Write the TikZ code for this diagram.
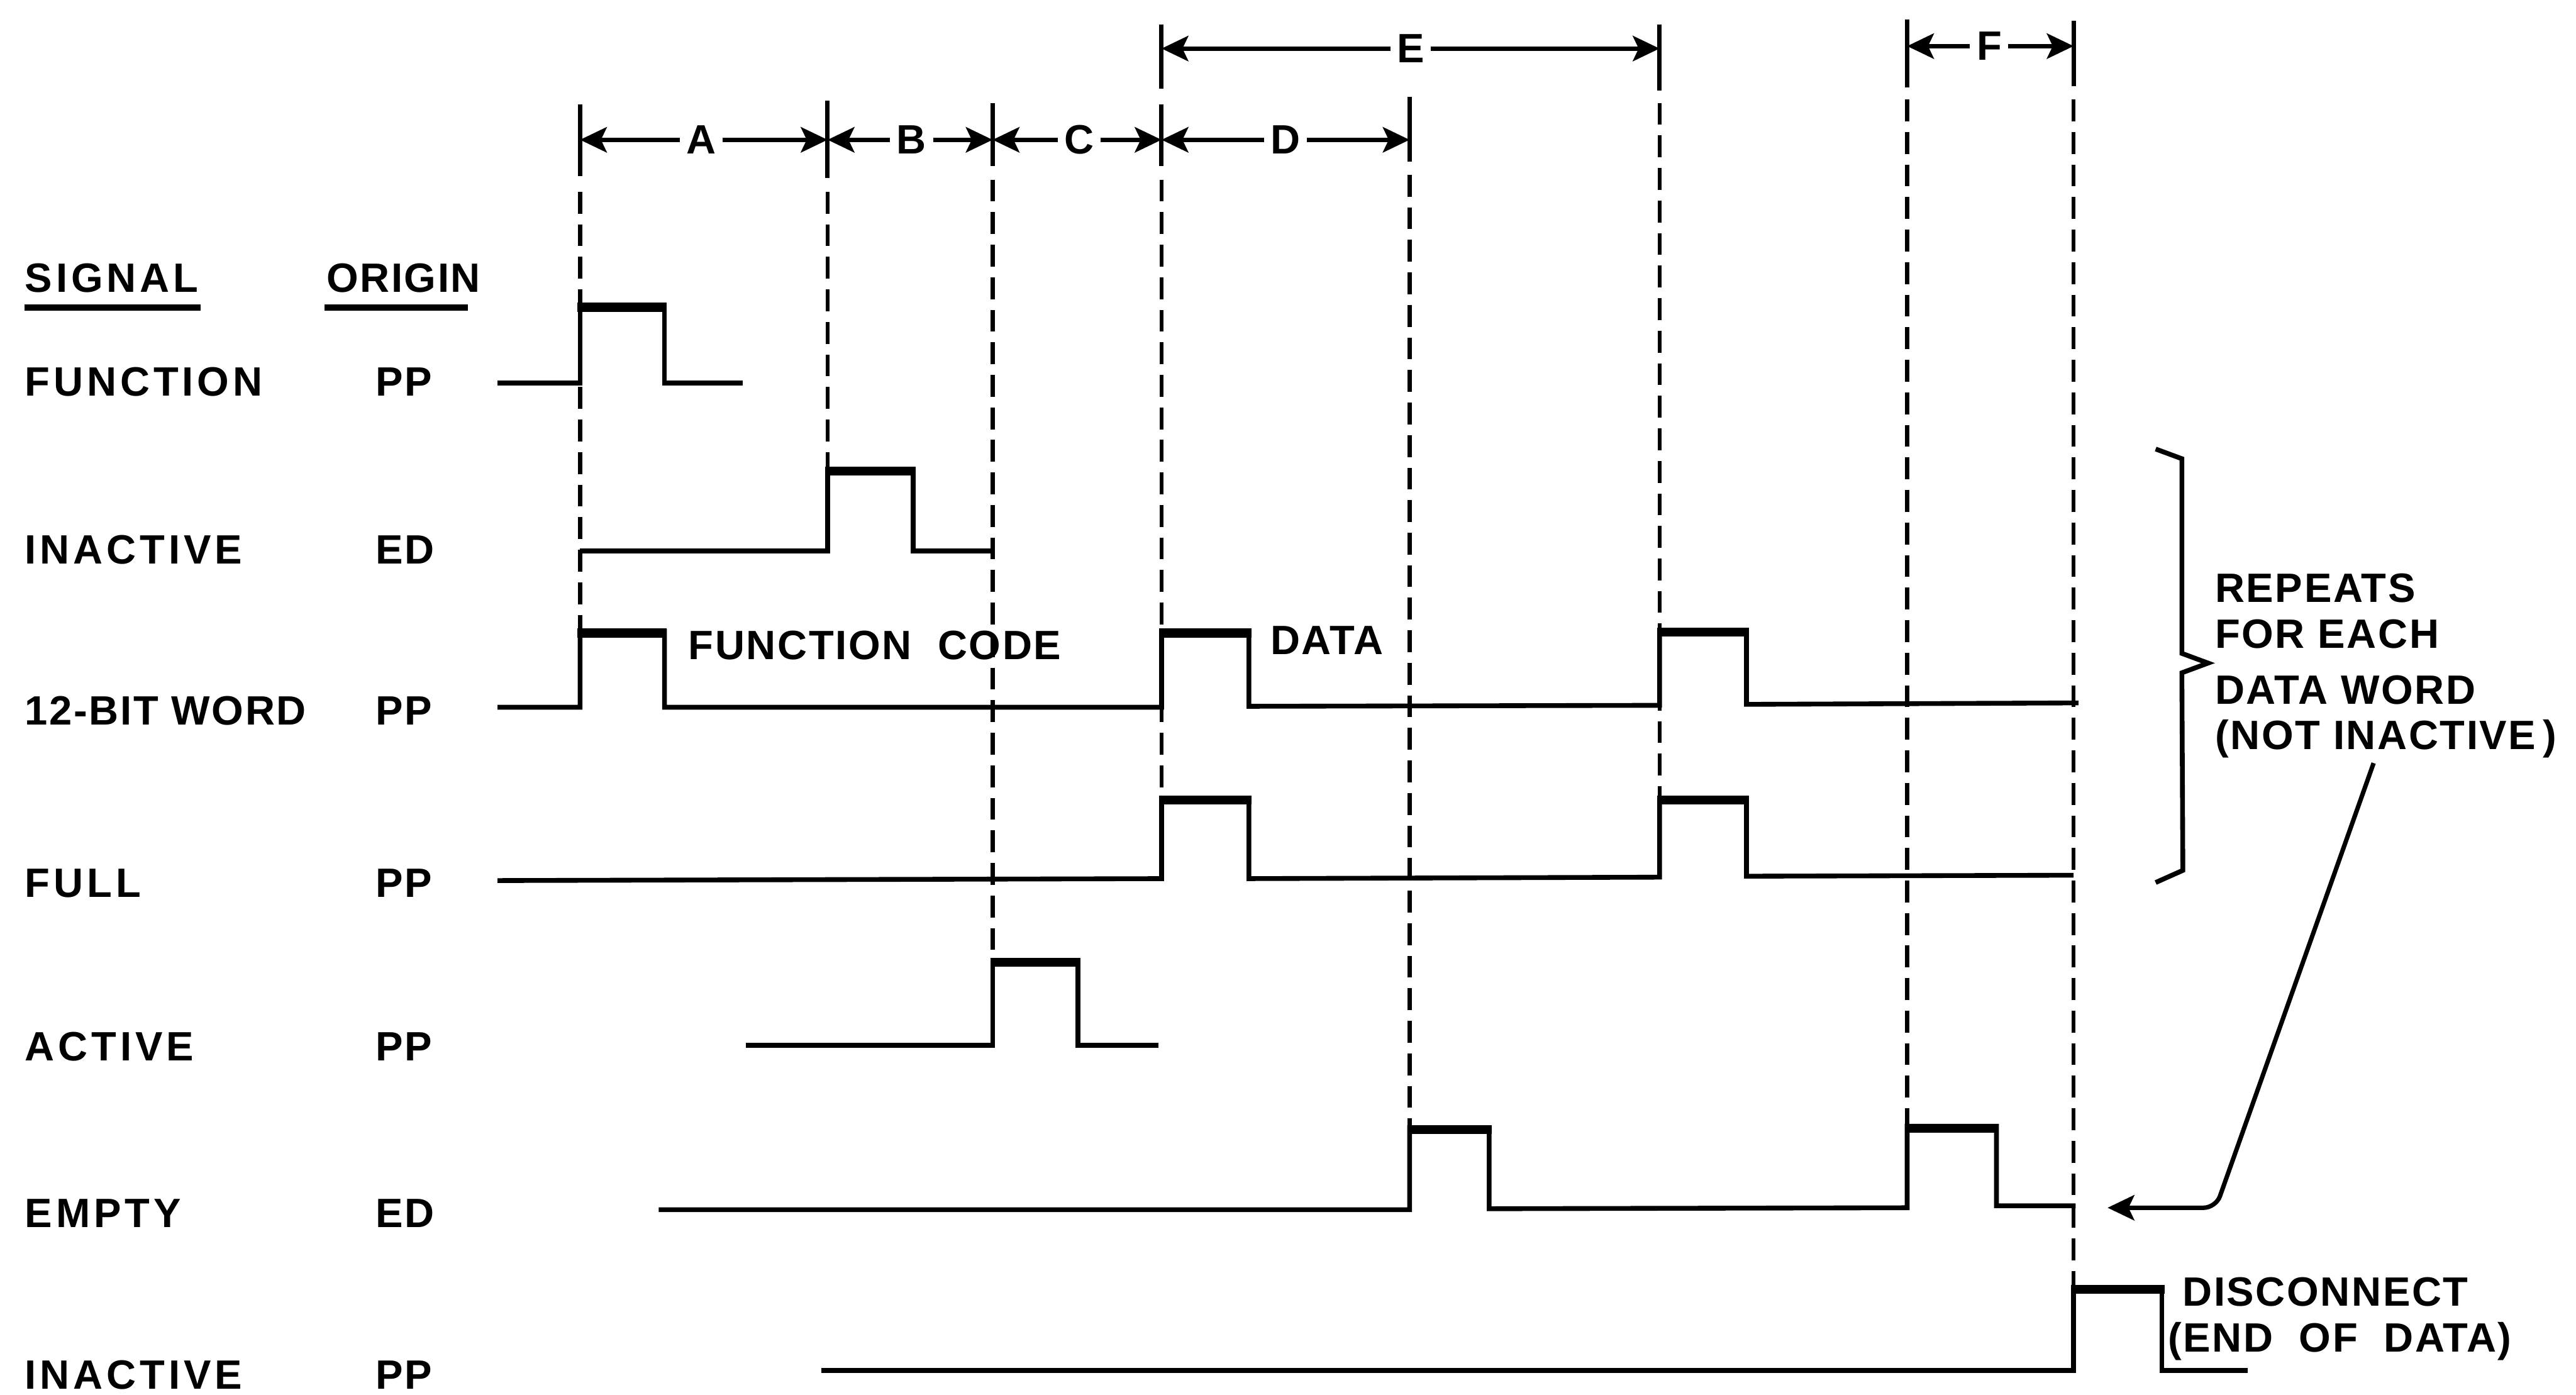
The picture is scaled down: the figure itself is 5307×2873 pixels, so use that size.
\documentclass[tikz,border=0pt]{standalone}
\usepackage{fontspec}
\newfontfamily\lblfam{Liberation Sans}[LetterSpace=4]
\newfontfamily\lblwidefam{Liberation Sans}[LetterSpace=9]
\newcommand\lblfont{\lblfam\bfseries\fontsize{24}{28}\selectfont}
\newcommand\lblwidefont{\lblwidefam\bfseries\fontsize{24}{28}\selectfont}
\usetikzlibrary{arrows.meta}
\begin{document}
\begin{tikzpicture}[x=0.01cm,y=-0.01cm,
  sig/.style={line width=2.8pt,line join=miter},
  topbar/.style={line width=5.2pt},
  guide/.style={line width=2.4pt,dash pattern=on 0.45cm off 0.22cm},
  tickline/.style={line width=2.6pt},
  uline/.style={line width=3.6pt},
  dimarrow/.style={line width=2.6pt,-{Stealth[length=0.55cm,width=0.52cm,inset=0.12cm]}},
  lbl/.style={font=\lblfont,inner sep=0pt,anchor=base west},
  rowlbl/.style={font=\lblwidefont,inner sep=0pt,anchor=base west},
  dimlbl/.style={font=\lblfont,inner sep=0.13cm}]
\useasboundingbox (0,0) rectangle (5307,2873);

% ---------- header ----------
\node[rowlbl] (hsig) at (51,602) {SIGNAL};
\node[lbl] (horg) at (672,602) {ORIGIN};
\draw[uline] (51,634) -- (413,634);
\draw[uline] (668,634) -- (964,634);

% ---------- row labels ----------
\node[rowlbl] (n1) at (51,816) {FUNCTION};
\node[rowlbl] (n2) at (51,1161) {INACTIVE};
\node[lbl] (n3) at (51,1493) {12-BIT WORD};
\node[rowlbl] (n4) at (51,1848) {FULL};
\node[rowlbl] (n5) at (51,2185) {ACTIVE};
\node[rowlbl] (n6) at (51,2528) {EMPTY};
\node[rowlbl] (n7) at (51,2861) {INACTIVE};
\node[lbl] (o1) at (774,816) {PP};
\node[lbl] (o2) at (774,1161) {ED};
\node[lbl] (o3) at (774,1493) {PP};
\node[lbl] (o4) at (774,1848) {PP};
\node[lbl] (o5) at (774,2185) {PP};
\node[lbl] (o6) at (774,2528) {ED};
\node[lbl] (o7) at (774,2861) {PP};

% ---------- timing boundaries: solid ticks ----------
\draw[tickline] (1195,215) -- (1195,363);
\draw[tickline] (1705,207) -- (1705,367);
\draw[tickline] (2045,212) -- (2045,342);
\draw[tickline] (2393,50) -- (2393,183);
\draw[tickline] (2393,215) -- (2393,342);
\draw[tickline] (2904,200) -- (2904,333);
\draw[tickline] (3419,50) -- (3419,186);
\draw[tickline] (3929,40) -- (3929,180);
\draw[tickline] (4272,43) -- (4272,178);

% ---------- dashed guides ----------
\draw[guide] (1195,395) -- (1195,1300);
\draw[guide] (1705,395) -- (1705,967);
\draw[guide] (2045,370) -- (2045,1978);
\draw[guide] (2393,370) -- (2393,1644);
\draw[guide] (2904,360) -- (2904,2323);
\draw[guide] (3419,212) -- (3419,1644);
\draw[guide] (3929,205) -- (3929,2323);
\draw[guide] (4272,205) -- (4272,2652);

% ---------- interval labels and arrows ----------
\coordinate (a1) at (1195,288);
\coordinate (a2) at (1705,288);
\coordinate (a3) at (2045,288);
\coordinate (a4) at (2393,288);
\coordinate (a5) at (2904,288);
\coordinate (e1) at (2393,100);
\coordinate (e2) at (3419,100);
\coordinate (f1) at (3929,95);
\coordinate (f2) at (4272,95);
\node[dimlbl] (lA) at (1445,288) {A};
\node[dimlbl] (lB) at (1878,288) {B};
\node[dimlbl] (lC) at (2223,288) {C};
\node[dimlbl] (lD) at (2648,288) {D};
\node[dimlbl] (lE) at (2906,100) {E};
\node[dimlbl] (lF) at (4098,95) {F};
\draw[dimarrow] (lA.west) -- (a1);
\draw[dimarrow] (lA.east) -- (a2);
\draw[dimarrow] (lB.west) -- (a2);
\draw[dimarrow] (lB.east) -- (a3);
\draw[dimarrow] (lC.west) -- (a3);
\draw[dimarrow] (lC.east) -- (a4);
\draw[dimarrow] (lD.west) -- (a4);
\draw[dimarrow] (lD.east) -- (a5);
\draw[dimarrow] (lE.west) -- (e1);
\draw[dimarrow] (lE.east) -- (e2);
\draw[dimarrow] (lF.west) -- (f1);
\draw[dimarrow] (lF.east) -- (f2);

% ---------- waveforms ----------
% FUNCTION
\draw[sig] (1025,789) -- (1195,789) -- (1195,629) -- (1369,629) -- (1369,789) -- (1530,789);
\draw[topbar] (1190,633) -- (1374,633);
% INACTIVE (ED)
\draw[sig] (1195,1135) -- (1705,1135) -- (1705,967) -- (1881,967) -- (1881,1135) -- (2045,1135);
\draw[topbar] (1700,971) -- (1886,971);
% 12-BIT WORD
\draw[sig] (1025,1457) -- (1195,1457) -- (1195,1300) -- (1369,1300) -- (1369,1457)
  -- (2393,1457) -- (2393,1300) -- (2573,1300) -- (2573,1455)
  -- (3419,1453) -- (3419,1298) -- (3598,1298) -- (3598,1451) -- (4282,1448);
\draw[topbar] (1190,1304) -- (1374,1304);
\draw[topbar] (2388,1304) -- (2578,1304);
\draw[topbar] (3414,1302) -- (3603,1302);
% FULL
\draw[sig] (1025,1814) -- (2393,1810) -- (2393,1644) -- (2573,1644) -- (2573,1810)
  -- (3419,1807) -- (3419,1644) -- (3598,1644) -- (3598,1805) -- (4272,1803);
\draw[topbar] (2388,1648) -- (2578,1648);
\draw[topbar] (3414,1648) -- (3603,1648);
% ACTIVE
\draw[sig] (1537,2153) -- (2045,2153) -- (2045,1978) -- (2221,1978) -- (2221,2153) -- (2386,2153);
\draw[topbar] (2040,1982) -- (2226,1982);
% EMPTY
\draw[sig] (1357,2492) -- (2904,2492) -- (2904,2323) -- (3068,2323) -- (3068,2490)
  -- (3929,2488) -- (3929,2320) -- (4113,2320) -- (4113,2484) -- (4276,2484);
\draw[topbar] (2899,2327) -- (3073,2327);
\draw[topbar] (3924,2324) -- (4118,2324);
% INACTIVE (PP)
\draw[sig] (1692,2823) -- (4272,2823) -- (4272,2652) -- (4454,2652) -- (4454,2823) -- (4631,2823);
\draw[topbar] (4267,2656) -- (4459,2656);

% ---------- annotations ----------
\node[lbl] (fc) at (1418,1358) {FUNCTION\ \ CODE};
\node[lbl] (dt) at (2617,1348) {DATA};

\draw[sig] (4441,925) -- (4495,945) -- (4495,1346) -- (4549,1366) -- (4495,1386)
  -- (4497,1793) -- (4441,1818);
\node[lbl] (r1) at (4563,1241) {REPEATS};
\node[lbl] (r2) at (4563,1335) {FOR EACH};
\node[lbl] (r3) at (4563,1450) {DATA WORD};
\node[lbl] (r4) at (4563,1544) {(NOT INACTIVE\,)};

\coordinate (ptrstart) at (4890,1572);
\coordinate (ptrbend) at (4565,2488);
\coordinate (ptrend) at (4342,2488);
\draw[dimarrow,rounded corners=0.25cm] (ptrstart) -- (ptrbend) -- (ptrend);

\node[lbl] (dc1) at (4496,2690) {DISCONNECT};
\node[lbl] (dc2) at (4466,2785) {(END\ \ OF\ \ DATA)};
\end{tikzpicture}
\end{document}
